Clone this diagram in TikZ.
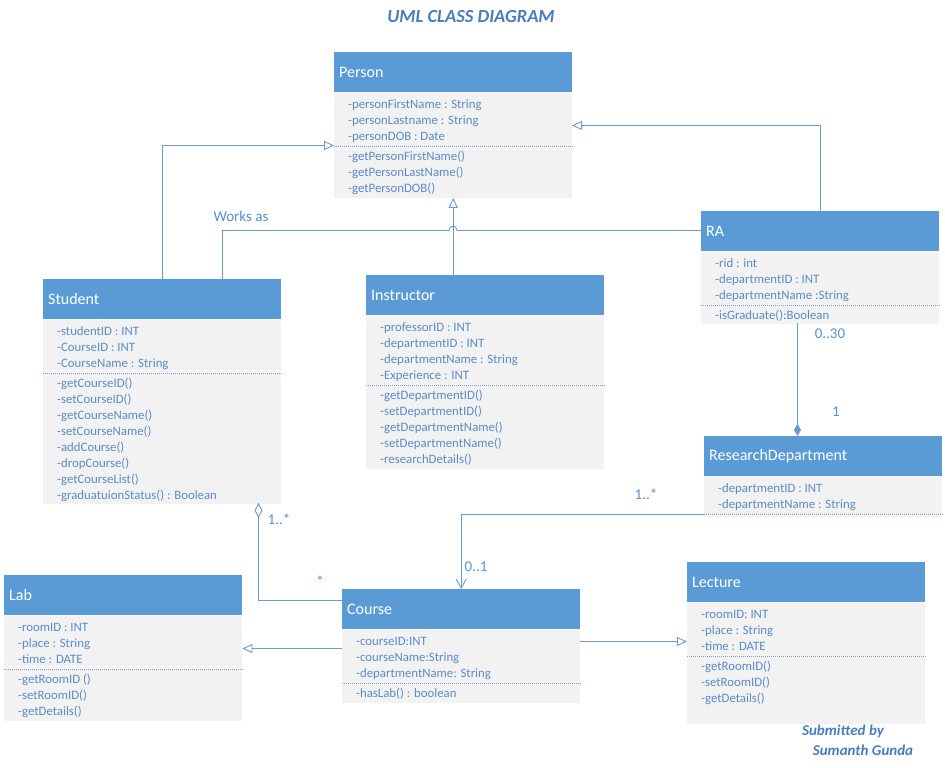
\documentclass[tikz,border=0pt]{standalone}
\usepackage{fontspec}
\setmainfont{Carlito}
\usetikzlibrary{arrows.meta}

\definecolor{hdrblue}{HTML}{5B9BD5}
\definecolor{bodygray}{HTML}{F2F2F2}
\definecolor{membertext}{HTML}{5B8BC8}
\definecolor{linkblue}{HTML}{6E9AD2}
\definecolor{labelblue}{HTML}{5B8FCF}
\definecolor{titleblue}{HTML}{4A7EBB}

\tikzset{
  hdr/.style={anchor=north west, fill=hdrblue, minimum width=238pt, minimum height=40pt,
    text width=228pt, inner xsep=5pt, inner ysep=0pt, align=left, text=white,
    font=\fontsize{16}{19}\selectfont},
  bodybox/.style={anchor=north west, fill=bodygray, minimum width=238pt, inner sep=0pt},
  members/.style={anchor=north west, inner sep=0pt, text=membertext,
    font=\fontsize{12.8}{16}\selectfont},
  sepline/.style={draw=membertext!80, line width=0.6pt, dash pattern=on 1pt off 1pt},
  link/.style={draw=linkblue, line width=0.9pt},
  gen/.style={link, -{Triangle[open, length=10pt, width=9pt]}},
  nav/.style={link, -{Straight Barb[length=9pt, width=10pt]}},
  agg/.style={link, -{Diamond[open, length=15pt, width=8pt]}},
  comp/.style={link, -{Diamond[length=12pt, width=7pt]}},
  mult/.style={text=labelblue, font=\fontsize{15}{18}\selectfont, inner sep=0pt},
  banner/.style={text=titleblue, font=\fontsize{18.5}{21}\selectfont\bfseries\itshape, inner sep=0pt},
  signature/.style={text=titleblue, font=\fontsize{15}{18}\selectfont\bfseries\itshape, inner sep=0pt},
}

% class box: id, x, y (top), title, body height, attributes, operations
\newcommand\umlclass[7]{%
  \node[hdr] (#1) at (#2,#3) {#4};
  \node[bodybox, minimum height=#5pt] (#1b) at (#1.south west) {};
  \node[members] (#1a) at ([xshift=14pt,yshift=-5pt]#1b.north west)
    {\begin{tabular}{@{}l@{}}#6\end{tabular}};
  \draw[sepline] (#1b.west |- #1a.south) -- (#1b.east |- #1a.south);
  \node[members] (#1o) at ([yshift=-3pt]#1a.south west)
    {\begin{tabular}{@{}l@{}}#7\end{tabular}};
}

\begin{document}
\begin{tikzpicture}[x=1pt, y=-1pt]
\useasboundingbox[fill=white] (0,0) rectangle (945,768);

\node[banner] (title) at (471,17) {UML CLASS DIAGRAM};

\umlclass{person}{334}{52}{Person}{105}
  {-personFirstName : String\\ -personLastname : String\\ -personDOB : Date}
  {-getPersonFirstName()\\ -getPersonLastName()\\ -getPersonDOB()}

\umlclass{student}{43}{279}{Student}{184}
  {-studentID : INT\\ -CourseID : INT\\ -CourseName : String}
  {-getCourseID()\\ -setCourseID()\\ -getCourseName()\\ -setCourseName()\\
   -addCourse()\\ -dropCourse()\\ -getCourseList()\\ -graduatuionStatus() : Boolean}

\umlclass{instructor}{366}{275}{Instructor}{153}
  {-professorID : INT\\ -departmentID : INT\\ -departmentName : String\\ -Experience : INT}
  {-getDepartmentID()\\ -setDepartmentID()\\ -getDepartmentName()\\ -setDepartmentName()\\
   -researchDetails()}

\umlclass{ra}{701}{211}{RA}{72}
  {-rid : int\\ -departmentID : INT\\ -departmentName :String}
  {-isGraduate():Boolean}

\umlclass{rd}{704}{436}{ResearchDepartment}{41}
  {-departmentID : INT\\ -departmentName : String}
  {}

\umlclass{lab}{4}{575}{Lab}{105}
  {-roomID : INT\\ -place : String\\ -time : DATE}
  {-getRoomID ()\\ -setRoomID()\\ -getDetails()}

\umlclass{course}{342}{589}{Course}{73}
  {-courseID:INT\\ -courseName:String\\ -departmentName: String}
  {-hasLab() : boolean}

\umlclass{lecture}{687}{562}{Lecture}{121}
  {-roomID: INT\\ -place : String\\ -time : DATE}
  {-getRoomID()\\ -setRoomID()\\ -getDetails()}

% connector end points
\coordinate (pL) at (334,145.5);
\coordinate (pR) at (572,125.5);
\coordinate (wsS) at (222.5,279);
\coordinate (hopL) at (449,230.5);
\coordinate (hopR) at (457,230.5);
\coordinate (raD) at (797.5,323);
\coordinate (rdT) at (797.5,436);
\coordinate (rdL) at (704,514.5);
\coordinate (cA) at (342,600.5);
\coordinate (sA) at (258.5,503);
\coordinate (cL) at (342,648.5);
\coordinate (cR) at (580,641.5);

% inheritance
\draw[gen] (student.north) |- (pL);
\draw[gen] (instructor.north -| personb.south) -- (personb.south);
\draw[gen] (ra.north) |- (pR);
\draw[gen] (cL) -- (labb.east |- cL);
\draw[gen] (cR) -- (lectureb.west |- cR);

% Student works as RA (hops over the Instructor line)
\draw[link] (wsS) |- (hopL) .. controls +(0,-6) and +(0,-6) .. (hopR);
\draw[link] (hopR) -- (ra.west |- hopR);
\node[mult] (worksas) at (241,216) {Works as};

% RA -- ResearchDepartment
\draw[comp] (raD) -- (rdT);
\node[mult] (m030) at (830,334) {0..30};
\node[mult] (m1) at (836,412) {1};

% ResearchDepartment -> Course
\draw[nav] (rdL) -| (course.north);
\node[mult] (mrd) at (646,494) {1..*};
\node[mult] (m01) at (476,567) {0..1};

% Course -- Student aggregation
\draw[agg] (cA) -| (sA);
\node[mult] (mst) at (279,519) {1..*};
\node[mult] (mco) at (320,581) {*};

\node[signature] (sub1) at (843,731) {Submitted by};
\node[signature] (sub2) at (863,750) {Sumanth Gunda};
\end{tikzpicture}
\end{document}
